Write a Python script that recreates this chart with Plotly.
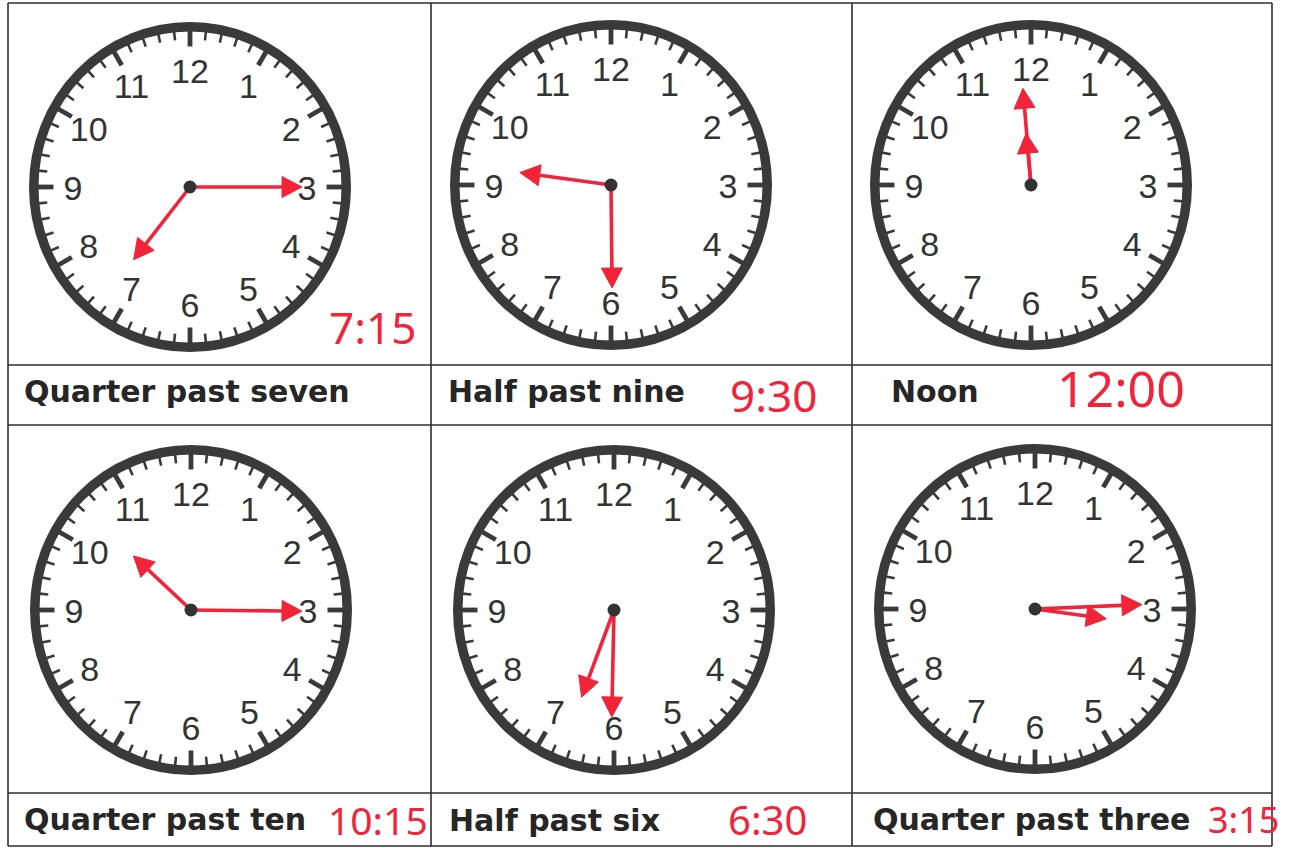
import math
import plotly.graph_objects as go

# ---------------- data (read from the worksheet) ----------------
times = ["7:15", "9:30", "12:00", "10:15", "6:30", "3:15"]
phrases = ["Quarter past seven", "Half past nine", "Noon",
           "Quarter past ten", "Half past six", "Quarter past three"]
dial_numbers = ["12", "1", "2", "3", "4", "5", "6", "7", "8", "9", "10", "11"]
# hand directions as drawn, in dial minutes (0 = 12 o'clock, 15 = 3 o'clock ...)
hour_hand_dial = [36.3, 46.3, 59.1, 52.2, 33.4, 16.3]
minute_hand_dial = [15.0, 29.9, 59.2, 15.1, 30.2, 14.6]
hour_hand_len = [92, 92, 52, 79, 93, 72]
minute_hand_len = [112, 103, 97, 111, 107, 107]

# ---------------- layout constants ----------------
W, H = 1306, 848
grid_x = [8, 431, 852, 1272]
grid_y = [3, 365, 425, 793, 846]
clock_centers = [(190, 187), (611, 185), (1031, 185), (191, 610), (614, 610), (1035, 609)]
label_pos = [(22, 391), (446, 391), (889, 391), (22, 819), (447, 820), (871, 819)]
time_pos = [(372, 327), (773, 395), (1121, 388), (378, 819), (767, 819), (1243, 819)]
time_size = [44, 44, 50, 39, 40, 36]

RX, RY = 161, 165          # outer radius of ring (scan slightly stretched vertically)
RING_W = 9.5
NUM_R = 117
NUM_DY = 4                 # text baseline correction
DARK = "#3a3a3a"
RED = "#f1243a"

fig = go.Figure()

# grid lines of the worksheet table
for gx in grid_x:
    fig.add_shape(type="line", x0=gx, x1=gx, y0=grid_y[0], y1=grid_y[-1],
                  line=dict(color="#2e2e2e", width=1.6), layer="below")
for gy in grid_y:
    fig.add_shape(type="line", x0=grid_x[0], x1=grid_x[-1], y0=gy, y1=gy,
                  line=dict(color="#2e2e2e", width=1.6), layer="below")

minor_x, minor_y, major_x, major_y = [], [], [], []
num_x, num_y, num_t = [], [], []
for (cx, cy) in clock_centers:
    # ring
    fig.add_shape(type="circle",
                  x0=cx - RX + RING_W / 2, x1=cx + RX - RING_W / 2,
                  y0=cy - RY + RING_W / 2, y1=cy + RY - RING_W / 2,
                  line=dict(color=DARK, width=RING_W))
    inner_x, inner_y = RX - RING_W + 1, RY - RING_W + 1
    for k in range(60):
        th = math.radians(k * 6)
        s, c = math.sin(th), math.cos(th)
        major = (k % 5 == 0)
        ln = 16 if major else 9
        x0 = cx + inner_x * s
        y0 = cy - inner_y * c
        x1 = cx + (inner_x - ln) * s
        y1 = cy - (inner_y - ln) * c
        if major:
            major_x += [x0, x1, None]
            major_y += [y0, y1, None]
        else:
            minor_x += [x0, x1, None]
            minor_y += [y0, y1, None]
    for i, lab in enumerate(dial_numbers):
        th = math.radians(i * 30)
        num_x.append(cx + NUM_R * math.sin(th))
        num_y.append(cy - NUM_R * math.cos(th) + NUM_DY)
        num_t.append(lab)

fig.add_trace(go.Scatter(x=minor_x, y=minor_y, mode="lines",
                         line=dict(color=DARK, width=2.6), hoverinfo="skip"))
fig.add_trace(go.Scatter(x=major_x, y=major_y, mode="lines",
                         line=dict(color=DARK, width=4.8), hoverinfo="skip"))
fig.add_trace(go.Scatter(x=num_x, y=num_y, mode="text", text=num_t,
                         textposition="middle center",
                         textfont=dict(family="Liberation Sans, Arial, sans-serif",
                                       size=34, color="#333333"),
                         hoverinfo="skip"))

# hands
shaft_x, shaft_y, head_x, head_y = [], [], [], []
HL, HW = 20, 10.5
for i, (cx, cy) in enumerate(clock_centers):
    for dial, L in ((hour_hand_dial[i], hour_hand_len[i]),
                    (minute_hand_dial[i], minute_hand_len[i])):
        th = dial / 60.0 * 2 * math.pi
        ux, uy = math.sin(th), -math.cos(th)
        nx, ny = -uy, ux
        tx, ty = cx + L * ux, cy + L * uy
        bx, by = cx + (L - HL) * ux, cy + (L - HL) * uy
        shaft_x += [cx, bx, None]
        shaft_y += [cy, by, None]
        head_x += [tx, bx + HW * nx, bx - HW * nx, tx, None]
        head_y += [ty, by + HW * ny, by - HW * ny, ty, None]

fig.add_trace(go.Scatter(x=shaft_x, y=shaft_y, mode="lines",
                         line=dict(color=RED, width=3.6), hoverinfo="skip"))
fig.add_trace(go.Scatter(x=head_x, y=head_y, mode="lines", fill="toself",
                         fillcolor=RED, line=dict(color=RED, width=1),
                         hoverinfo="skip"))

# center pins
fig.add_trace(go.Scatter(x=[c[0] for c in clock_centers], y=[c[1] for c in clock_centers],
                         mode="markers", marker=dict(color="#333333", size=13),
                         hoverinfo="skip"))

# phrases and handwritten answers
for i in range(6):
    fig.add_annotation(x=label_pos[i][0], y=label_pos[i][1], text=phrases[i],
                       showarrow=False, xanchor="left", yanchor="middle",
                       font=dict(family="DejaVu Sans, sans-serif", size=30,
                                 color="#262626", weight="bold"))
    fig.add_annotation(x=time_pos[i][0], y=time_pos[i][1], text=times[i],
                       showarrow=False, xanchor="center", yanchor="middle",
                       font=dict(family="Noto Sans, sans-serif", size=time_size[i],
                                 color=RED))

fig.update_xaxes(range=[0, W], visible=False, fixedrange=True)
fig.update_yaxes(range=[H, 0], visible=False, fixedrange=True)
fig.update_layout(width=W, height=H, margin=dict(l=0, r=0, t=0, b=0),
                  paper_bgcolor="white", plot_bgcolor="white", showlegend=False)

fig.write_html("out.html", config={"displayModeBar": False},
               post_script="document.body.style.margin='0';document.body.style.overflow='hidden';")
